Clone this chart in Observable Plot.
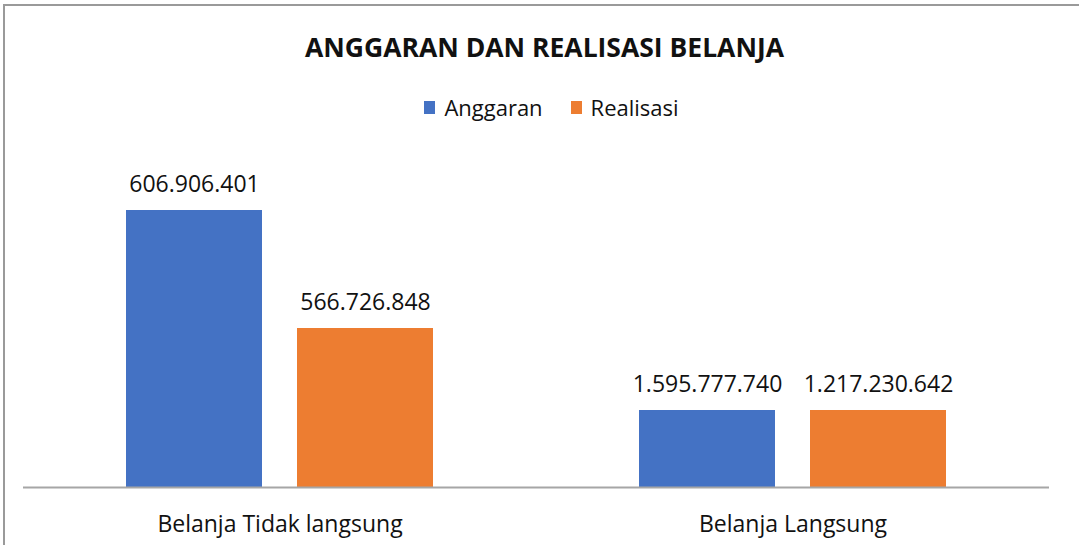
<!DOCTYPE html>
<html>
<head>
<meta charset="utf-8">
<script src="https://cdn.jsdelivr.net/npm/d3@7"></script>
<script src="https://cdn.jsdelivr.net/npm/@observablehq/plot@0.6"></script>
<style>
  html, body { margin: 0; padding: 0; background: #fff; overflow: hidden; }
  #wrap { position: relative; width: 1079px; height: 545px; font-family: "Open Sans", sans-serif; color: #111; }
  #frame { position: absolute; left: 3px; top: 4px; width: 1100px; height: 600px; border-top: 2px solid #9a9a9a; border-left: 2px solid #9a9a9a; box-sizing: border-box; }
  #title { position: absolute; left: 0; width: 1079px; top: 29px; text-align: center; font-weight: 700; font-size: 26.5px; line-height: 36px; padding-left: 10px; box-sizing: border-box; }
  #legend { position: absolute; left: 0; width: 1079px; top: 92px; display: flex; justify-content: center; align-items: center; font-size: 22px; line-height: 30px; padding-left: 24px; box-sizing: border-box; }
  .item { display: flex; align-items: center; margin: 0 14px; }
  .sw { width: 11px; height: 13px; margin-right: 9px; }
  #chart { position: absolute; left: 0; top: 0; }
</style>
</head>
<body>
<div id="wrap">
  <div id="frame"></div>
  <div id="chart"></div>
  <div id="title"></div>
  <div id="legend"></div>
</div>
<script>
const chartTitle = "ANGGARAN DAN REALISASI BELANJA";
const categories = ["Belanja Tidak langsung", "Belanja Langsung"];
const series = ["Anggaran", "Realisasi"];
const colors = ["#4472C4", "#ED7D31"];
// Data labels as printed on the chart
const anggaranLabels = ["606.906.401", "1.595.777.740"];
const realisasiLabels = ["566.726.848", "1.217.230.642"];
// Bar heights as drawn in the chart (relative units)
const anggaranHeights = [277, 77];
const realisasiHeights = [159, 77];

const rows = [];
categories.forEach((c, i) => {
  rows.push({category: c, series: series[0], value: anggaranHeights[i], label: anggaranLabels[i]});
  rows.push({category: c, series: series[1], value: realisasiHeights[i], label: realisasiLabels[i]});
});

document.getElementById("title").textContent = chartTitle;
const legend = document.getElementById("legend");
series.forEach((s, i) => {
  const item = document.createElement("div");
  item.className = "item";
  const sw = document.createElement("span");
  sw.className = "sw";
  sw.style.background = colors[i];
  const t = document.createElement("span");
  t.textContent = s;
  item.appendChild(sw); item.appendChild(t);
  legend.appendChild(item);
});

const plot = Plot.plot({
  width: 1079,
  height: 545,
  marginLeft: 22,
  marginRight: 30,
  marginTop: 187,
  marginBottom: 58,
  style: {fontFamily: "Open Sans, sans-serif", background: "transparent", overflow: "visible"},
  fx: {domain: categories, padding: 0, axis: null},
  x: {domain: series, paddingInner: 0.205, paddingOuter: 0.6, axis: null},
  y: {domain: [0, 300], axis: null},
  color: {domain: series, range: colors},
  marks: [
    Plot.barY(rows, {fx: "category", x: "series", y: "value", fill: "series"}),
    Plot.ruleY([0], {stroke: "#a6a6a6", strokeWidth: 2}),
    Plot.text(rows, {fx: "category", x: "series", y: "value", text: "label", dy: -26, fontSize: 23, fill: "#111"}),
    Plot.text(categories, {fx: d => d, text: d => d, frameAnchor: "bottom", dy: 44, fontSize: 23, fill: "#111"})
  ]
});
document.getElementById("chart").appendChild(plot);
</script>
</body>
</html>
